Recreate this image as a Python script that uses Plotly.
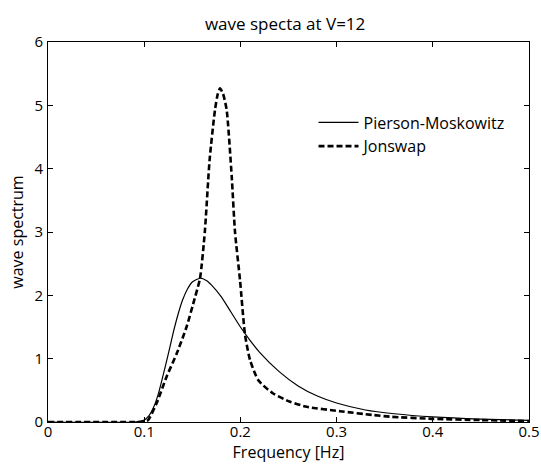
import plotly.graph_objects as go

# Pierson-Moskowitz spectrum
pm_f = [0, 0.09, 0.1, 0.105, 0.11, 0.115, 0.12, 0.125, 0.13, 0.135, 0.14, 0.145, 0.15,
        0.158, 0.165, 0.17, 0.18, 0.19, 0.2, 0.21, 0.22, 0.24, 0.26, 0.28, 0.3, 0.33,
        0.36, 0.4, 0.45, 0.5]
pm_s = [0, 0, 0.03, 0.10, 0.24, 0.46, 0.76, 1.07, 1.40, 1.69, 1.93, 2.10, 2.21,
        2.27, 2.23, 2.16, 1.98, 1.74, 1.50, 1.29, 1.10, 0.80, 0.57, 0.41, 0.30, 0.19,
        0.13, 0.08, 0.045, 0.025]

# Jonswap spectrum
js_f = [0, 0.09, 0.1, 0.104, 0.113, 0.1234, 0.1338, 0.144, 0.151, 0.158, 0.163, 0.168,
        0.1736, 0.1765, 0.1788, 0.182, 0.1857, 0.191, 0.1944, 0.1996, 0.2048, 0.21,
        0.2186, 0.234, 0.2516, 0.269, 0.3035, 0.338, 0.3555, 0.4, 0.45, 0.5]
js_s = [0, 0, 0.005, 0.03, 0.30, 0.72, 1.08, 1.50, 1.87, 2.27, 3.0, 4.14,
        4.93, 5.18, 5.27, 5.18, 4.93, 3.87, 3.0, 2.24, 1.38, 0.98,
        0.66, 0.45, 0.32, 0.24, 0.17, 0.11, 0.084, 0.05, 0.03, 0.015]

x_ticks = [0, 0.1, 0.2, 0.3, 0.4, 0.5]
x_tick_text = ["0", "0.1", "0.2", "0.3", "0.4", "0.5"]
y_ticks = [0, 1, 2, 3, 4, 5, 6]

FONT = "Open Sans"

fig = go.Figure()
fig.add_trace(go.Scatter(x=pm_f, y=pm_s, mode="lines", name="Pierson-Moskowitz",
                         line=dict(color="black", width=1.2, shape="spline", smoothing=0.6)))
fig.add_trace(go.Scatter(x=js_f, y=js_s, mode="lines", name="Jonswap",
                         line=dict(color="black", width=2.6, dash="6px,3px",
                                   shape="spline", smoothing=0.6)))

axis_common = dict(showgrid=False, zeroline=False, showline=True, linecolor="black",
                   linewidth=1, mirror="ticks", ticks="inside", ticklen=5,
                   tickcolor="black", automargin=False,
                   tickfont=dict(family=FONT, size=15, color="black"))

fig.update_layout(
    width=541, height=465,
    margin=dict(l=48, r=12, t=42, b=43),
    paper_bgcolor="white", plot_bgcolor="white",
    title=dict(text="wave specta at V=12", x=0.527, xanchor="center", y=0.948, yanchor="middle",
               font=dict(family=FONT, size=17, color="black")),
    xaxis=dict(range=[0, 0.5], tickvals=x_ticks, ticktext=x_tick_text,
               ticklabelstandoff=-4,
               title=dict(text="Frequency [Hz]", standoff=4,
                          font=dict(family=FONT, size=16, color="black")),
               **axis_common),
    yaxis=dict(range=[0, 6], tickvals=y_ticks, ticklabelstandoff=1,
               title=dict(text="wave spectrum", standoff=6,
                          font=dict(family=FONT, size=16, color="black")),
               **axis_common),
    legend=dict(x=0.552, y=0.833, xanchor="left", yanchor="top", bgcolor="rgba(0,0,0,0)",
                borderwidth=0, font=dict(family=FONT, size=16, color="black"),
                tracegroupgap=0, itemwidth=40),
    showlegend=True,
)

fig.write_html("out.html")
